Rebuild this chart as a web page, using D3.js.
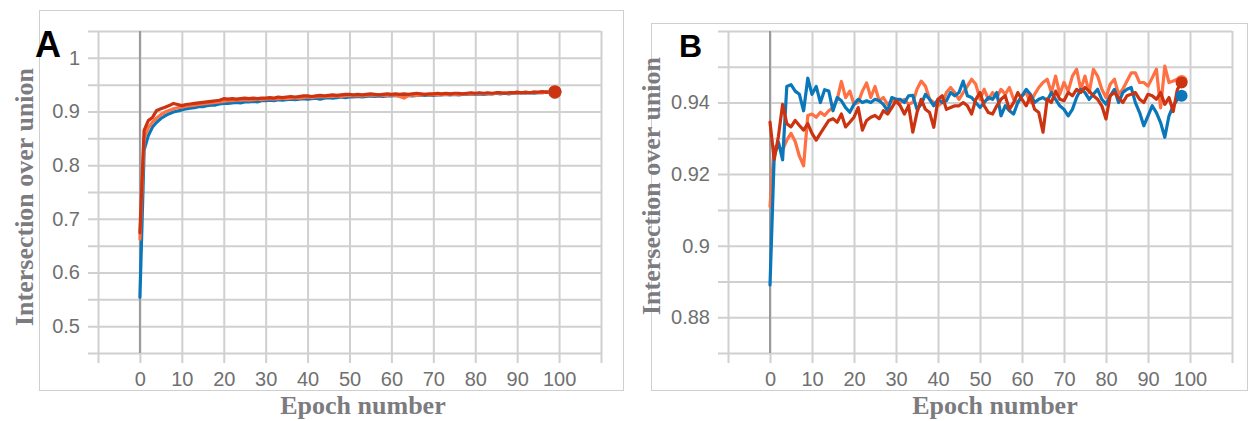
<!DOCTYPE html>
<meta charset="utf-8">
<style>
  body { margin: 0; background: #fff; }
  svg { display: block; }
  .grid line { stroke: #d0d0d0; stroke-width: 2; }
  .grid path, .labels path { display: none; }
  .labels line { display: none; }
  .labels text { font-family: "Liberation Sans", Arial, sans-serif; font-size: 20px; fill: #707070; }
  .title { font-family: "Liberation Serif", "Times New Roman", serif; font-weight: bold; font-size: 26px; fill: #7b7b80; }
  .panel-label { font-family: "Liberation Sans", Arial, sans-serif; font-weight: bold; fill: #000; }
  .frame { fill: none; stroke: #cfcfcf; stroke-width: 1; }
  .series { fill: none; stroke-width: 3.2; stroke-linejoin: round; stroke-linecap: round; }
</style>
<body>
<svg id="chart" width="1248" height="421"></svg>
</body>
<script src="https://cdn.jsdelivr.net/npm/d3@7"></script>
<script>
// panel A: IoU per epoch, 0..99
const blueA = [0.554,0.828,0.855,0.871,0.880,0.887,0.892,0.896,0.899,0.901,
  0.903,0.905,0.906,0.907,0.909,0.909,0.911,0.912,0.912,0.914,
  0.915,0.915,0.916,0.917,0.916,0.918,0.918,0.919,0.918,0.920,
  0.920,0.921,0.920,0.922,0.921,0.922,0.923,0.922,0.923,0.924,
  0.923,0.924,0.925,0.923,0.925,0.926,0.925,0.926,0.927,0.926,
  0.927,0.927,0.928,0.927,0.928,0.929,0.928,0.929,0.928,0.929,
  0.929,0.930,0.929,0.930,0.930,0.929,0.930,0.931,0.930,0.931,
  0.930,0.931,0.931,0.932,0.931,0.932,0.931,0.932,0.932,0.933,
  0.932,0.933,0.932,0.933,0.933,0.934,0.933,0.934,0.933,0.934,
  0.934,0.935,0.934,0.935,0.934,0.935,0.935,0.936,0.935,0.936];
const orangeA = [0.662,0.850,0.870,0.880,0.888,0.894,0.899,0.902,0.905,0.907,
  0.908,0.910,0.911,0.912,0.913,0.914,0.915,0.916,0.917,0.918,
  0.919,0.920,0.920,0.921,0.921,0.922,0.921,0.922,0.923,0.922,
  0.923,0.924,0.923,0.924,0.925,0.924,0.925,0.926,0.925,0.926,
  0.927,0.926,0.927,0.928,0.927,0.928,0.928,0.929,0.928,0.929,
  0.930,0.929,0.930,0.929,0.930,0.931,0.930,0.931,0.930,0.930,
  0.931,0.930,0.928,0.925,0.929,0.931,0.930,0.931,0.932,0.931,
  0.932,0.931,0.932,0.932,0.933,0.932,0.933,0.932,0.933,0.933,
  0.933,0.934,0.933,0.934,0.933,0.934,0.934,0.935,0.934,0.934,
  0.935,0.934,0.935,0.935,0.936,0.935,0.935,0.936,0.936,0.936];
const redA = [0.674,0.865,0.883,0.889,0.902,0.905,0.908,0.911,0.915,0.913,
  0.911,0.913,0.914,0.915,0.916,0.917,0.918,0.919,0.920,0.921,
  0.924,0.923,0.924,0.923,0.924,0.925,0.924,0.925,0.924,0.925,
  0.925,0.926,0.925,0.927,0.926,0.927,0.928,0.927,0.928,0.929,
  0.929,0.928,0.929,0.930,0.929,0.930,0.931,0.930,0.931,0.932,
  0.932,0.931,0.932,0.931,0.932,0.933,0.932,0.931,0.932,0.933,
  0.932,0.933,0.932,0.933,0.932,0.933,0.934,0.933,0.932,0.933,
  0.933,0.934,0.933,0.934,0.933,0.934,0.934,0.933,0.934,0.935,
  0.934,0.935,0.934,0.935,0.934,0.935,0.935,0.934,0.935,0.935,
  0.936,0.935,0.936,0.935,0.936,0.936,0.937,0.936,0.936,0.937];

// panel B: IoU per epoch, 0..98
const blueB = [0.889,0.925,0.929,0.924,0.9445,0.945,0.9432,0.9423,0.9377,0.9468,
  0.9423,0.9445,0.940,0.9436,0.9432,0.9377,0.9414,0.9405,0.9386,0.9373,
  0.9395,0.9409,0.940,0.9405,0.940,0.9409,0.9405,0.9395,0.9377,0.9414,
  0.9409,0.9409,0.940,0.9419,0.942,0.9381,0.9395,0.9423,0.9409,0.9391,
  0.9409,0.940,0.9405,0.9428,0.9419,0.9428,0.946,0.9419,0.9414,0.940,
  0.9386,0.940,0.9414,0.9409,0.9428,0.9363,0.9391,0.9377,0.9368,0.940,
  0.9419,0.9437,0.9423,0.940,0.9409,0.9414,0.9405,0.9428,0.9409,0.9391,
  0.9381,0.9363,0.9381,0.9414,0.9437,0.9428,0.9409,0.9423,0.9437,0.9409,
  0.9395,0.9419,0.9437,0.940,0.9428,0.9437,0.9442,0.940,0.9372,0.9335,
  0.9363,0.9391,0.9372,0.9344,0.9303,0.9363,0.9391,0.9409,0.9419];
const orangeB = [0.911,0.9275,0.9277,0.9268,0.9295,0.9314,0.9291,0.925,0.9223,0.9364,
  0.9368,0.9359,0.9373,0.9364,0.9377,0.9386,0.9409,0.9459,0.9414,0.9432,
  0.9395,0.940,0.9432,0.9455,0.9414,0.9445,0.9405,0.9414,0.9395,0.9405,
  0.940,0.940,0.9409,0.9395,0.940,0.9437,0.946,0.9446,0.9409,0.940,
  0.9391,0.940,0.9428,0.9442,0.9428,0.9409,0.9428,0.9446,0.9465,0.9451,
  0.9409,0.9437,0.9409,0.9428,0.9414,0.9437,0.9423,0.9442,0.9409,0.940,
  0.9419,0.9428,0.940,0.9423,0.9442,0.9456,0.9465,0.9428,0.9474,0.9423,
  0.9456,0.9432,0.9474,0.9493,0.9437,0.9474,0.9428,0.9493,0.9474,0.9437,
  0.9414,0.9451,0.9465,0.9423,0.9437,0.946,0.9483,0.9483,0.9456,0.9456,
  0.9446,0.9469,0.9493,0.9385,0.9502,0.9456,0.946,0.9465,0.946];
const redB = [0.9345,0.9241,0.9305,0.9395,0.9341,0.9332,0.935,0.9336,0.9323,0.9341,
  0.9314,0.9295,0.9314,0.9332,0.935,0.9355,0.9345,0.9368,0.9332,0.9345,
  0.9359,0.9386,0.9323,0.935,0.9359,0.9364,0.9355,0.9377,0.9368,0.9386,
  0.9405,0.9391,0.9368,0.9391,0.9317,0.9372,0.9409,0.9381,0.9372,0.9331,
  0.9409,0.9419,0.9381,0.9386,0.9391,0.9391,0.940,0.9391,0.9368,0.9409,
  0.9428,0.9391,0.9372,0.9368,0.9391,0.9409,0.9419,0.9381,0.940,0.9428,
  0.9409,0.9391,0.9419,0.9381,0.9372,0.9317,0.941,0.940,0.9432,0.9409,
  0.9405,0.9428,0.9419,0.9437,0.9428,0.9442,0.9432,0.9419,0.9409,0.9391,
  0.9354,0.9419,0.9428,0.9414,0.940,0.9419,0.9423,0.9428,0.9409,0.940,
  0.9423,0.9419,0.9409,0.9428,0.9395,0.9414,0.9375,0.9437,0.9456];

const xTicks = [0, 10, 20, 30, 40, 50, 60, 70, 80, 90, 100];
const xGrid = [-10, 0, 10, 20, 30, 40, 50, 60, 70, 80, 90, 100, 110];
const yTicksA = [0.5, 0.6, 0.7, 0.8, 0.9, 1];
const yGridA = [0.45, 0.5, 0.55, 0.6, 0.65, 0.7, 0.75, 0.8, 0.85, 0.9, 0.95, 1, 1.05];
const yTicksB = [0.88, 0.9, 0.92, 0.94];
const yGridB = [0.87, 0.88, 0.89, 0.9, 0.91, 0.92, 0.93, 0.94, 0.95, 0.96];

const colors = { blue: '#0a77bb', orange: '#ff7043', red: '#cc3311' };

const svg = d3.select('#chart');

function drawPanel(p) {
  const g = svg.append('g');

  g.append('rect').attr('class', 'frame')
      .attr('x', p.frame[0]).attr('y', p.frame[1])
      .attr('width', p.frame[2]).attr('height', p.frame[3]);

  const x = d3.scaleLinear().domain([-10, 110]).range([p.left, p.right]);
  const y = d3.scaleLinear().domain(p.yDomain).range([p.bottom, p.top]);
  const tick = 10;

  // horizontal grid, sticking out to the left as ticks
  g.append('g').attr('class', 'grid')
      .attr('transform', `translate(${p.left - tick},0)`)
      .call(d3.axisLeft(y).tickValues(p.yGrid).tickSize(-(p.right - p.left + tick)).tickFormat(''));

  // vertical grid, sticking out at the bottom
  g.append('g').attr('class', 'grid')
      .attr('transform', `translate(0,${p.bottom + tick})`)
      .call(d3.axisBottom(x).tickValues(xGrid).tickSize(-(p.bottom - p.top + tick)).tickFormat(''));

  g.append('g').attr('class', 'labels')
      .attr('transform', `translate(${p.left - tick},0)`)
      .call(d3.axisLeft(y).tickValues(p.yTicks).tickSize(0).tickPadding(8).tickFormat(d3.format('')));

  g.append('g').attr('class', 'labels')
      .attr('transform', `translate(0,${p.bottom + tick})`)
      .call(d3.axisBottom(x).tickValues(xTicks).tickSize(0).tickPadding(9));

  g.append('line')
      .attr('x1', x(0)).attr('x2', x(0))
      .attr('y1', p.top).attr('y2', p.bottom)
      .attr('stroke', '#9a9a9a').attr('stroke-width', 2);

  const line = d3.line().x((d, i) => x(i)).y(d => y(d));

  p.series.forEach(s => {
    g.append('path').attr('class', 'series')
        .attr('stroke', s.color)
        .attr('d', line(s.values));
  });
  p.series.forEach(s => {
    const last = s.values.length - 1;
    g.append('circle')
        .attr('cx', x(last)).attr('cy', y(s.values[last]))
        .attr('r', p.dot).attr('fill', s.color);
  });

  g.append('text').attr('class', 'title')
      .attr('text-anchor', 'middle')
      .attr('transform', `translate(${p.yTitle[0]},${p.yTitle[1]}) rotate(-90)`)
      .text('Intersection over union');

  g.append('text').attr('class', 'title')
      .attr('text-anchor', 'middle')
      .attr('x', p.xTitle[0]).attr('y', p.xTitle[1])
      .text('Epoch number');

  g.append('text').attr('class', 'panel-label')
      .attr('x', p.label[0]).attr('y', p.label[1])
      .style('font-size', p.label[2] + 'px')
      .text(p.name);
}

drawPanel({
  name: 'A',
  frame: [39.5, 10.5, 584, 380],
  left: 98, right: 601, top: 31, bottom: 353,
  yDomain: [0.45, 1.05], yGrid: yGridA, yTicks: yTicksA,
  series: [
    { color: colors.blue, values: blueA },
    { color: colors.orange, values: orangeA },
    { color: colors.red, values: redA }
  ],
  dot: 6.5,
  yTitle: [33, 197], xTitle: [363, 414], label: [35, 57, 36]
});

drawPanel({
  name: 'B',
  frame: [651.5, 23.5, 596, 367],
  left: 728, right: 1232, top: 31, bottom: 353,
  yDomain: [0.87, 0.96], yGrid: yGridB, yTicks: yTicksB,
  series: [
    { color: colors.orange, values: orangeB },
    { color: colors.blue, values: blueB },
    { color: colors.red, values: redB }
  ],
  dot: 6,
  yTitle: [660, 186], xTitle: [995, 414], label: [679, 57, 32]
});
</script>
